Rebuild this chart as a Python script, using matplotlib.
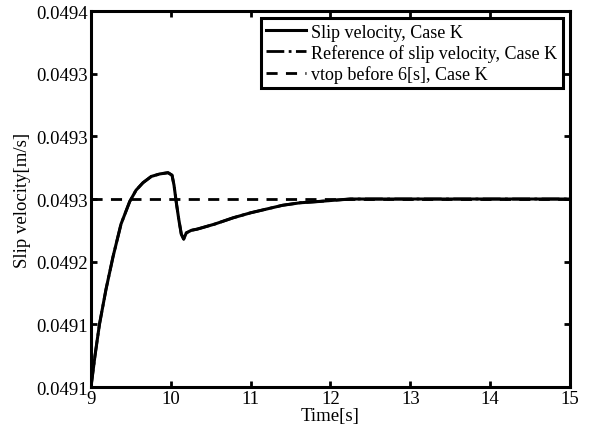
import matplotlib
matplotlib.use("Agg")
import matplotlib.pyplot as plt

plt.rcParams['font.family'] = ['Liberation Serif', 'DejaVu Serif']

# values
time_s = [9.00, 9.050, 9.106, 9.188, 9.276, 9.376, 9.485, 9.564, 9.651, 9.755, 9.861,
          9.965, 10.015, 10.04, 10.069, 10.099, 10.131, 10.161, 10.194, 10.256, 10.332,
          10.55, 10.78, 11.00, 11.20, 11.40, 11.62, 11.85, 12.04, 12.25, 12.46,
          13.0, 14.0, 15.0]
slip_vel = [0.049100, 0.049125, 0.049150, 0.049178, 0.049204, 0.049230, 0.049248,
            0.049257, 0.049263, 0.049268, 0.049270, 0.049271, 0.049269, 0.049261,
            0.049247, 0.049234, 0.049222, 0.049218, 0.049223, 0.049225, 0.049226,
            0.049230, 0.049235, 0.049239, 0.049242, 0.049245, 0.049247, 0.049248,
            0.049249, 0.049250, 0.049250, 0.049250, 0.049250, 0.049250]
ref_vel = slip_vel  # reference lies under the measured curve
vtop = 0.04925

yticks = [0.04910, 0.04915, 0.04920, 0.04925, 0.04930, 0.04935, 0.04940]
ytick_labels = ['0.0491', '0.0491', '0.0492', '0.0493', '0.0493', '0.0493', '0.0494']
xticks = [9, 10, 11, 12, 13, 14, 15]

fig = plt.figure(figsize=(5.89, 4.35), dpi=100)
ax = fig.add_axes([0.1545, 0.108, 0.8132, 0.8644])

ax.plot(time_s, slip_vel, '-', color='k', lw=2.2, label='Slip velocity, Case K', zorder=3)
ax.plot(time_s, ref_vel, '-.', color='k', lw=2.0, label='Reference of slip velocity, Case K', zorder=2)
ax.axhline(vtop, ls='--', color='k', lw=2.0, dashes=(4, 3), label='vtop before 6[s], Case K', zorder=2)

ax.set_xlim(9, 15)
ax.set_ylim(0.0491, 0.0494)
ax.set_xticks(xticks)
ax.set_yticks(yticks)
ax.set_yticklabels(ytick_labels)
ax.tick_params(direction='in', top=True, right=True, length=4, width=2, labelsize=13.5, pad=2)
for s in ax.spines.values():
    s.set_linewidth(2.2)

ax.set_xlabel('Time[s]', fontsize=13.5, labelpad=0)
ax.set_ylabel('Slip velocity[m/s]', fontsize=13.5, labelpad=4)

leg = ax.legend(loc='upper right', fontsize=13, handlelength=2.2, handletextpad=0.3,
                borderpad=0.3, labelspacing=0.18, borderaxespad=0.4, fancybox=False,
                framealpha=1)
leg.get_frame().set_edgecolor('k')
leg.get_frame().set_linewidth(2.2)

fig.savefig('out.png', dpi=100)
